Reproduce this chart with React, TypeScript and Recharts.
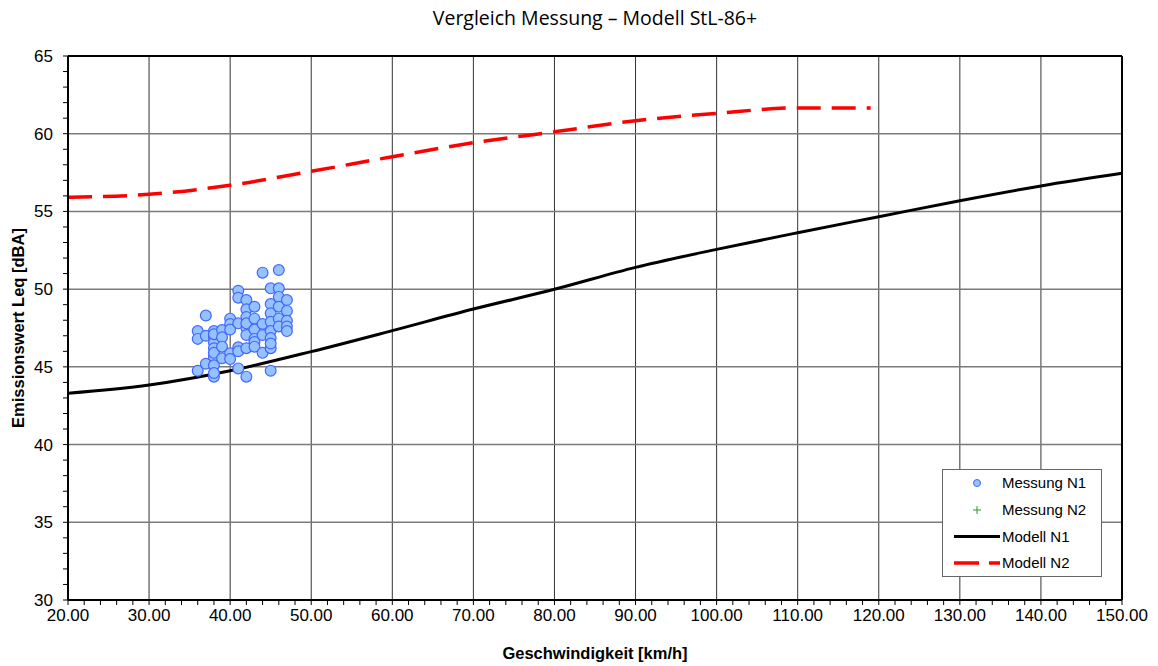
import { ComposedChart, Scatter, Line, XAxis, YAxis, CartesianGrid, ReferenceLine, Legend, Label } from 'recharts';

// Modell N1 (schwarz)
const speedN1 = [20, 30, 40, 50, 60, 70, 80, 90, 100, 110, 120, 130, 140, 150];
const levelN1 = [43.3, 43.83, 44.75, 45.98, 47.33, 48.72, 49.99, 51.4, 52.56, 53.63, 54.66, 55.69, 56.64, 57.45];

// Modell N2 (rot gestrichelt)
const speedN2 = [20, 30, 40, 50, 60, 70, 80, 90, 100, 110, 119];
const levelN2 = [55.91, 56.1, 56.68, 57.58, 58.52, 59.42, 60.12, 60.84, 61.31, 61.66, 61.65];

// Messung N1
const messSpeed = [
  36, 36, 36,
  37, 37, 37,
  38, 38, 38, 38, 38, 38, 38, 38, 38, 38,
  39, 39, 39, 39,
  40, 40, 40, 40, 40,
  41, 41, 41, 41, 41, 41,
  42, 42, 42, 42, 42, 42, 42, 42,
  43, 43, 43, 43, 43, 43,
  44, 44, 44, 44,
  45, 45, 45, 45, 45, 45, 45, 45, 45,
  46, 46, 46, 46, 46, 46,
  47, 47, 47, 47, 47,
];
const messLevel = [
  47.3, 46.8, 44.75,
  48.3, 47.0, 45.2,
  47.3, 46.9, 46.55, 46.2, 45.65, 45.1, 44.37, 44.6, 47.1, 45.9,
  47.37, 46.9, 46.3, 45.55,
  48.1, 47.76, 45.87, 45.5, 47.4,
  49.9, 49.45, 46.26, 46.0, 44.9, 47.8,
  49.3, 48.7, 48.2, 47.5, 47.05, 46.2, 44.37, 47.8,
  48.87, 48.1, 47.4, 46.8, 46.6, 46.3,
  51.06, 47.76, 47.05, 45.9,
  50.05, 49.04, 48.45, 47.9, 47.3, 46.85, 46.2, 44.75, 46.5,
  51.23, 50.05, 49.5, 48.87, 48.1, 47.6,
  49.3, 48.6, 47.97, 47.6, 47.3,
];

// Messung N2: keine Werte
const messN2: { x: number; y: number }[] = [];

const xMajor = [20, 30, 40, 50, 60, 70, 80, 90, 100, 110, 120, 130, 140, 150];
const yMajor = [30, 35, 40, 45, 50, 55, 60, 65];
const legendNames = ['Messung N1', 'Messung N2', 'Modell N1', 'Modell N2'];

const steps = (from: number, to: number, step: number) => {
  const out: number[] = [];
  for (let v = from; v <= to; v += step) out.push(v);
  return out;
};
const xTicks = steps(20, 150, 2);
const yTicks = steps(30, 65, 1);

const n1Data = speedN1.map((x, i) => ({ x, y: levelN1[i] }));
const n2Data = speedN2.map((x, i) => ({ x, y: levelN2[i] }));
const messData = messSpeed.map((x, i) => ({ x, y: messLevel[i] }));

const ARIAL = '"Liberation Sans", Arial, sans-serif';
const tickFont = { fill: '#000', fontSize: 17, fontFamily: ARIAL };
const titleFont = { fontWeight: 'bold', fontSize: 16.5, fill: '#000', fontFamily: ARIAL };

function Dot(props: any) {
  const { cx, cy } = props;
  if (cx == null || cy == null) return null;
  return <circle cx={cx} cy={cy} r={5.4} fill="#94c2ff" stroke="#4466ff" strokeWidth={1.2} />;
}

function LegendBox() {
  const rows = [14, 41, 67.5, 94];
  return (
    <svg width={160} height={108} style={{ display: 'block' }}>
      <rect x={0.5} y={0.5} width={159} height={107} fill="#fff" stroke="#666" />
      <circle cx={35} cy={rows[0]} r={3.5} fill="#94c2ff" stroke="#4466ff" strokeWidth={1} />
      <path d={`M31 ${rows[1]} h8 M35 ${rows[1] - 4} v8`} stroke="#2a9a2a" strokeWidth={1} />
      <line x1={12} x2={58} y1={rows[2]} y2={rows[2]} stroke="#000" strokeWidth={3} />
      <line x1={12} x2={58} y1={rows[3]} y2={rows[3]} stroke="#ff0000" strokeWidth={3.5} strokeDasharray="25 10" />
      {legendNames.map((name, i) => (
        <text key={name} x={60} y={rows[i]} dy="0.35em" fontSize={15} fill="#000" fontFamily={ARIAL}>{name}</text>
      ))}
    </svg>
  );
}

export default function App() {
  return (
    <div style={{ position: 'absolute', left: 0, top: 0, width: 1158, height: 666, background: '#fff' }}>
      <div style={{
        position: 'absolute', left: 68, width: 1054, top: 4, textAlign: 'center',
        fontFamily: '"Open Sans", sans-serif', fontSize: 19.5, color: '#000',
      }}>
        Vergleich Messung – Modell StL-86+
      </div>
      <ComposedChart width={1158} height={666} margin={{ top: 56, right: 36, bottom: 36, left: 0 }}>
        <CartesianGrid horizontal={false} verticalValues={xMajor} stroke="#333" strokeWidth={1} />
        <CartesianGrid vertical={false} horizontalValues={yMajor} stroke="#7a7a7a" strokeWidth={1.5} />
        <XAxis
          type="number" dataKey="x" domain={[20, 150]} ticks={xTicks} interval={0}
          tickFormatter={(v: number) => (v % 10 === 0 ? v.toFixed(2) : '')}
          height={30} tickSize={5} tickMargin={4} tick={tickFont}
          axisLine={{ stroke: '#000', strokeWidth: 2 }} tickLine={{ stroke: '#000' }}
        >
          <Label value="Geschwindigkeit [km/h]" position="bottom" offset={17} style={titleFont} />
        </XAxis>
        <YAxis
          type="number" dataKey="y" domain={[30, 65]} ticks={yTicks} interval={0}
          tickFormatter={(v: number) => (v % 5 === 0 ? String(v) : '')}
          width={68} tickSize={5} tickMargin={10} tick={tickFont}
          axisLine={{ stroke: '#000', strokeWidth: 2 }} tickLine={{ stroke: '#000' }}
        >
          <Label value="Emissionswert Leq [dBA]" angle={-90} position="center" dx={-16}
            style={{ ...titleFont, textAnchor: 'middle' }} />
        </YAxis>
        <ReferenceLine y={65} stroke="#000" strokeWidth={2} />
        <ReferenceLine x={150} stroke="#000" strokeWidth={2} />
        <Line data={n1Data} dataKey="y" type="monotone" stroke="#000" strokeWidth={3} dot={false}
          activeDot={false} isAnimationActive={false} />
        <Line data={n2Data} dataKey="y" type="monotone" stroke="#ff0000" strokeWidth={3.5}
          strokeDasharray="24 11" dot={false} activeDot={false} isAnimationActive={false} />
        <Scatter data={messData} dataKey="y" shape={<Dot />} isAnimationActive={false} />
        <Scatter data={messN2} dataKey="y" fill="#2a9a2a" isAnimationActive={false} />
        <Legend content={() => <LegendBox />} layout="horizontal" verticalAlign="middle"
          wrapperStyle={{ left: 942, top: 469, width: 160, height: 108 }} />
      </ComposedChart>
    </div>
  );
}
